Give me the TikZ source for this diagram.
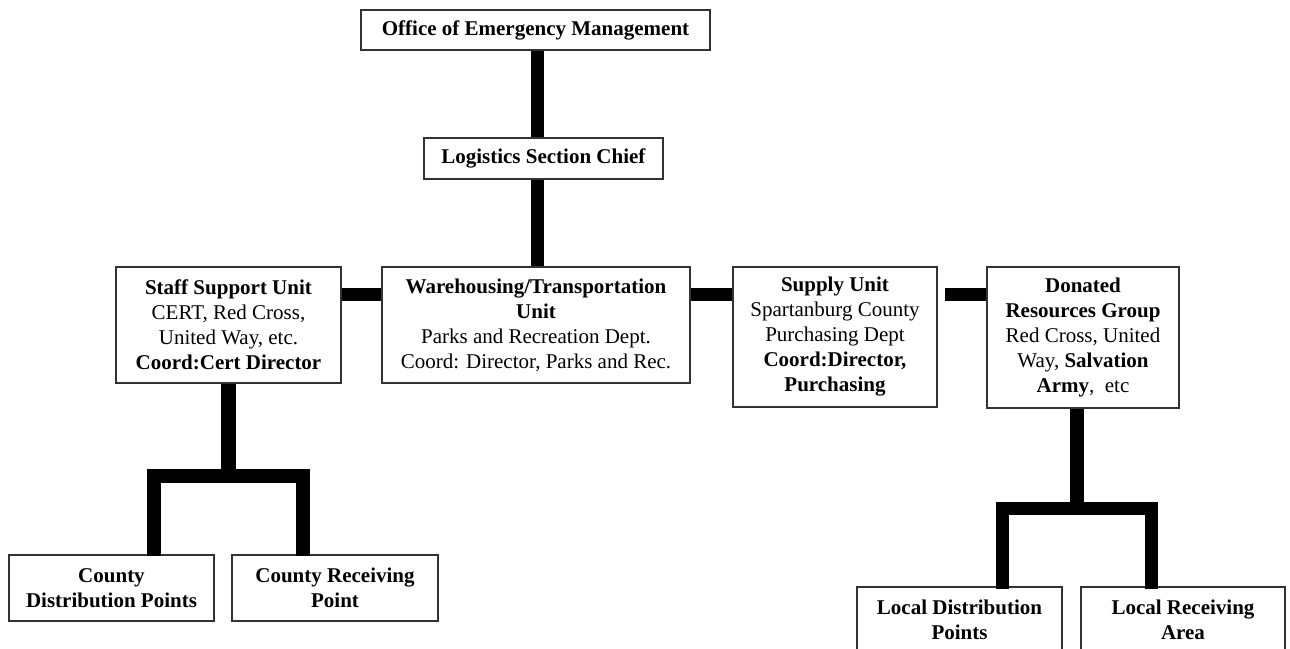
\documentclass[tikz,border=0pt]{standalone}
\usepackage{fontspec}
\setmainfont{Liberation Serif}
\begin{document}
\begin{tikzpicture}[x=1pt,y=-1pt,
  box/.style={draw=black!80, line width=1.2pt, fill=white, inner sep=0pt,
    align=center, font=\fontsize{21}{25}\selectfont},
  bar/.style={line width=13pt, black, line cap=butt, line join=miter},
  treebar/.style={line width=14pt, black, line cap=butt, line join=miter}]
\useasboundingbox (0,0) rectangle (1290,648);
\clip (0,0) rectangle (1290,648);

% top of the chart
\node[box, minimum width=349pt, minimum height=40pt] (office) at (535.5,30)
  {\textbf{Office of Emergency Management}};
\node[box, minimum width=239pt, minimum height=41pt] (logi) at (543.5,158.5)
  {\textbf{Logistics Section Chief}};

% unit row
\node[box, minimum width=225pt, minimum height=116pt] (staff) at (228.5,325)
  {\textbf{Staff Support Unit}\\CERT, Red Cross,\\United Way, etc.\\\textbf{Coord:Cert Director}};
\node[box, minimum width=308pt, minimum height=116pt] (ware) at (536,325)
  {\textbf{Warehousing/Transportation}\\\textbf{Unit}\\Parks and Recreation Dept.\\Coord: Director, Parks and Rec.};
\node[box, minimum width=204pt, minimum height=140pt] (supply) at (835,337)
  {\textbf{Supply Unit}\\Spartanburg County\\Purchasing Dept\\\textbf{Coord:Director,}\\\textbf{Purchasing}};
\node[box, minimum width=192pt, minimum height=141pt] (donated) at (1083,337.5)
  {\textbf{Donated}\\\textbf{Resources Group}\\Red Cross, United\\Way, \textbf{Salvation}\\\textbf{Army}, \ etc};

% bottom row
\node[box, minimum width=205pt, minimum height=66pt] (cdist) at (111.5,588)
  {\textbf{County}\\\textbf{Distribution Points}};
\node[box, minimum width=206pt, minimum height=66pt] (crecv) at (335,588)
  {\textbf{County Receiving}\\\textbf{Point}};
\node[box, minimum width=205pt, minimum height=66pt] (ldist) at (959.5,620)
  {\textbf{Local Distribution}\\\textbf{Points}};
\node[box, minimum width=204pt, minimum height=66pt] (lrecv) at (1183,620)
  {\textbf{Local Receiving}\\\textbf{Area}};

% guide coordinates for the connectors
\coordinate (spine) at (537,0);
\coordinate (hline) at (0,294);
\coordinate (sfork) at (228.5,476);
\coordinate (sl) at (154,476);
\coordinate (sr) at (303,476);
\coordinate (dfork) at (1077,508.5);
\coordinate (dl) at (1002.5,508.5);
\coordinate (dr) at (1151,508.5);

% vertical spine
\draw[bar] (office.south -| spine) -- (logi.north -| spine);
\draw[bar] (logi.south -| spine) -- (ware.north -| spine);

% horizontal links in the unit row
\draw[bar] (staff.east |- hline) -- (ware.west |- hline);
\draw[bar] (ware.east |- hline) -- (supply.west |- hline);
\draw[bar, shorten <=7pt] (supply.east |- hline) -- (donated.west |- hline);

% staff support branch
\draw[bar, line width=15pt] (staff.south) -- (sfork);
\draw[treebar] ([yshift=-2pt]cdist.north -| sl) -- (sl) -- (sr) -- ([yshift=-2pt]crecv.north -| sr);

% donated resources branch
\draw[treebar] (donated.south -| dfork) -- (dfork);
\draw[treebar, line width=13pt] ([yshift=-3pt]ldist.north -| dl) -- (dl) -- (dr) -- ([yshift=-3pt]lrecv.north -| dr);
\end{tikzpicture}
\end{document}
